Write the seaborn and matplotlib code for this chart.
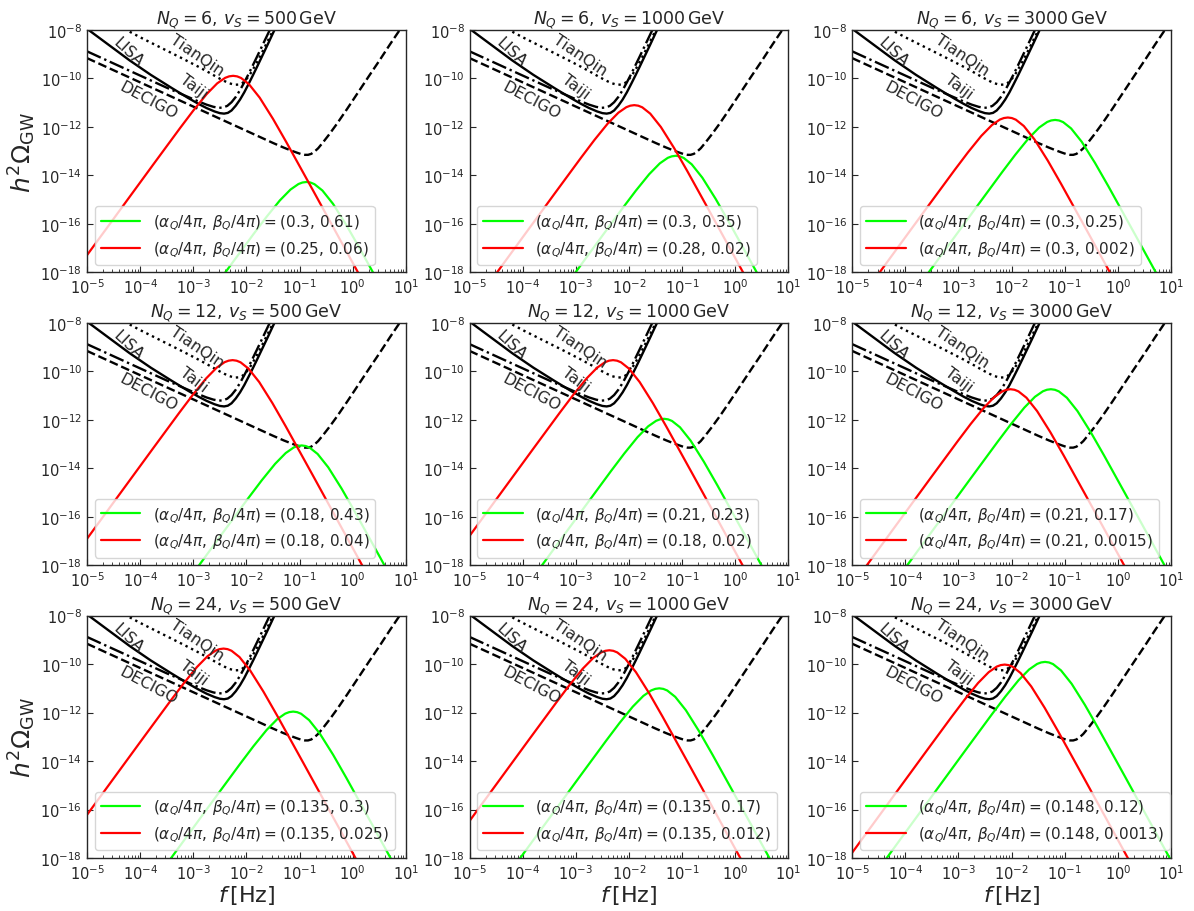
import numpy as np
import pandas as pd
import matplotlib
matplotlib.use("Agg")
import matplotlib.pyplot as plt
import seaborn as sns
from matplotlib.ticker import LogLocator, NullLocator, FixedLocator

# ---------------- data (log10 values) ----------------
# Detector sensitivity curves (identical in every panel)
LISA_LOGF = [-5.0, -4.6, -4.2, -3.8, -3.4, -3.1, -2.9, -2.75, -2.6, -2.5, -2.42,
             -2.35, -2.28, -2.2, -2.12, -2.04, -1.96, -1.88, -1.8, -1.7, -1.6,
             -1.5, -1.4]
LISA_LOGO = [-7.95, -8.6, -9.25, -9.85, -10.4, -10.8, -11.05, -11.22, -11.36,
             -11.43, -11.45, -11.42, -11.32, -11.12, -10.87, -10.57, -10.23,
             -9.88, -9.52, -9.06, -8.6, -8.13, -7.67]

TAIJI_LOGF = [-5.0, -4.5, -4.0, -3.5, -3.1, -2.9, -2.75, -2.62, -2.52, -2.44,
              -2.36, -2.28, -2.2, -2.12, -2.04, -1.96, -1.88, -1.8, -1.7, -1.6, -1.5]
TAIJI_LOGO = [-8.88, -9.38, -9.88, -10.38, -10.76, -10.95, -11.08, -11.17, -11.21,
              -11.2, -11.13, -10.98, -10.76, -10.48, -10.16, -9.82, -9.46, -9.1,
              -8.64, -8.18, -7.72]

TIANQIN_LOGF = [-4.3, -4.0, -3.6, -3.2, -2.9, -2.7, -2.55, -2.42, -2.32, -2.22,
                -2.14, -2.07, -2.0, -1.93, -1.86, -1.78, -1.7, -1.6, -1.5, -1.4]
TIANQIN_LOGO = [-7.95, -8.3, -8.74, -9.18, -9.52, -9.76, -9.95, -10.1, -10.2,
                -10.26, -10.25, -10.18, -10.03, -9.82, -9.56, -9.24, -8.9, -8.46,
                -8.02, -7.58]

DECIGO_LOGF = [-5.0, -4.0, -3.0, -2.0, -1.5, -1.3, -1.15, -1.05, -0.97, -0.9,
               -0.84, -0.78, -0.72, -0.65, -0.56, -0.45, -0.3, -0.1, 0.1, 0.3,
               0.5, 0.7, 0.9, 1.05]
DECIGO_LOGO = [-9.16, -10.16, -11.16, -12.16, -12.66, -12.85, -12.98, -13.06,
               -13.12, -13.15, -13.15, -13.11, -13.02, -12.88, -12.64, -12.33,
               -11.88, -11.24, -10.58, -9.92, -9.27, -8.6, -7.95, -7.5]

# Common spectral shape of the GW signals (offsets from the peak, log10)
SHAPE_DLOGF = [-4.5, -4.0, -3.5, -3.0, -2.5, -2.0, -1.5, -1.0, -0.75, -0.5, -0.3,
               -0.15, -0.075, 0.0, 0.075, 0.15, 0.3, 0.5, 0.75, 1.0, 1.5, 2.0,
               2.5, 3.0, 3.5]
SHAPE_DLOGO = [-12.65, -11.15, -9.65, -8.15, -6.65, -5.15, -3.65, -2.16, -1.435,
               -0.759, -0.312, -0.084, -0.022, 0.0, -0.023, -0.090, -0.351,
               -0.902, -1.775, -2.732, -4.714, -6.712, -8.712, -10.712, -12.712]

# Panels
N_Q = [6, 6, 6, 12, 12, 12, 24, 24, 24]
V_S = [500, 1000, 3000, 500, 1000, 3000, 500, 1000, 3000]

GREEN_PEAK_LOGF = [-0.87, -1.12, -1.18, -0.96, -1.34, -1.26, -1.12, -1.43, -1.37]
GREEN_PEAK_LOGO = [-14.27, -13.19, -11.71, -13.06, -11.96, -10.74, -11.96, -11.0, -9.91]
RED_PEAK_LOGF = [-2.25, -1.90, -2.07, -2.26, -2.30, -2.02, -2.43, -2.37, -2.13]
RED_PEAK_LOGO = [-9.89, -11.10, -11.61, -9.54, -9.54, -10.74, -9.36, -9.43, -10.02]

GREEN_LABELS = ["(0.3, 0.61)", "(0.3, 0.35)", "(0.3, 0.25)",
                "(0.18, 0.43)", "(0.21, 0.23)", "(0.21, 0.17)",
                "(0.135, 0.3)", "(0.135, 0.17)", "(0.148, 0.12)"]
RED_LABELS = ["(0.25, 0.06)", "(0.28, 0.02)", "(0.3, 0.002)",
              "(0.18, 0.04)", "(0.18, 0.02)", "(0.21, 0.0015)",
              "(0.135, 0.025)", "(0.135, 0.012)", "(0.148, 0.0013)"]

DETECTOR_NAMES = ["LISA", "TianQin", "Taiji", "DECIGO"]
DETECTOR_TEXT_LOGF = [-4.22, -2.93, -3.0, -3.84]
DETECTOR_TEXT_LOGO = [-8.9, -9.0, -10.33, -10.87]
DETECTOR_TEXT_ROT = [-43, -34, -37, -28]

# ---------------- style ----------------
sns.set_style("ticks", {"xtick.direction": "in", "ytick.direction": "in"})
plt.rcParams["font.family"] = ["DejaVu Sans"]
plt.rcParams["mathtext.fontset"] = "dejavusans"

fig, axes = plt.subplots(3, 3, figsize=(11.94, 9.12), dpi=100)
fig.subplots_adjust(left=87 / 1194, right=1171 / 1194, top=1 - 31 / 912,
                    bottom=1 - 859 / 912, wspace=0.2, hspace=0.208)

prefix = r"$(\alpha_Q/4\pi,\, \beta_Q/4\pi) = $"

sens = [
    (LISA_LOGF, LISA_LOGO, "-"),
    (TIANQIN_LOGF, TIANQIN_LOGO, ":"),
    (TAIJI_LOGF, TAIJI_LOGO, "-."),
    (DECIGO_LOGF, DECIGO_LOGO, "--"),
]

shape_f = 10.0 ** np.array(SHAPE_DLOGF)
shape_o = 10.0 ** np.array(SHAPE_DLOGO)

for i, ax in enumerate(axes.flat):
    ax.set_xscale("log")
    ax.set_yscale("log")
    for lf, lo, ls in sens:
        d = pd.DataFrame({"f": 10.0 ** np.array(lf), "o": 10.0 ** np.array(lo)})
        sns.lineplot(data=d, x="f", y="o", ax=ax, color="black", lw=1.7,
                     linestyle=ls, sort=False, estimator=None)
    g = pd.DataFrame({"f": shape_f * 10.0 ** GREEN_PEAK_LOGF[i],
                      "o": shape_o * 10.0 ** GREEN_PEAK_LOGO[i]})
    r = pd.DataFrame({"f": shape_f * 10.0 ** RED_PEAK_LOGF[i],
                      "o": shape_o * 10.0 ** RED_PEAK_LOGO[i]})
    sns.lineplot(data=g, x="f", y="o", ax=ax, color="lime", lw=1.6,
                 sort=False, estimator=None)
    sns.lineplot(data=r, x="f", y="o", ax=ax, color="red", lw=1.6,
                 sort=False, estimator=None)
    lines = ax.get_lines()
    hg, hr = lines[-2], lines[-1]

    for name, tf, to, rot in zip(DETECTOR_NAMES, DETECTOR_TEXT_LOGF,
                                 DETECTOR_TEXT_LOGO, DETECTOR_TEXT_ROT):
        ax.text(10.0 ** tf, 10.0 ** to, name, rotation=rot, ha="center",
                va="center", fontsize=11.5, rotation_mode="anchor")

    ax.set_xlim(1e-5, 1e1)
    ax.set_ylim(1e-18, 1e-8)
    ax.xaxis.set_major_locator(LogLocator(base=10, numticks=20))
    ax.xaxis.set_minor_locator(LogLocator(base=10, subs=np.arange(2, 10), numticks=100))
    ax.yaxis.set_major_locator(FixedLocator([1e-18, 1e-16, 1e-14, 1e-12, 1e-10, 1e-8]))
    ax.yaxis.set_minor_locator(NullLocator())
    ax.tick_params(axis="both", which="major", labelsize=10.5, length=4.5)
    ax.tick_params(axis="x", which="minor", length=2.5)
    for s in ax.spines.values():
        s.set_linewidth(1.0)

    ax.set_title(r"$N_Q = %d,\, v_S = %d\,\mathrm{GeV}$" % (N_Q[i], V_S[i]),
                 fontsize=12.5, pad=4)
    ax.set_xlabel("")
    ax.set_ylabel("")
    ax.legend([hg, hr], [prefix + GREEN_LABELS[i], prefix + RED_LABELS[i]],
              loc="lower left", fontsize=11, handlelength=2.6)

for ax in axes[2, :]:
    ax.set_xlabel(r"$f\,[\mathrm{Hz}]$", fontsize=16, labelpad=1)
for row in (0, 2):
    axes[row, 0].set_ylabel(r"$h^2\Omega_{\rm GW}$", fontsize=18, labelpad=2)

fig.savefig("out.png", dpi=100)
